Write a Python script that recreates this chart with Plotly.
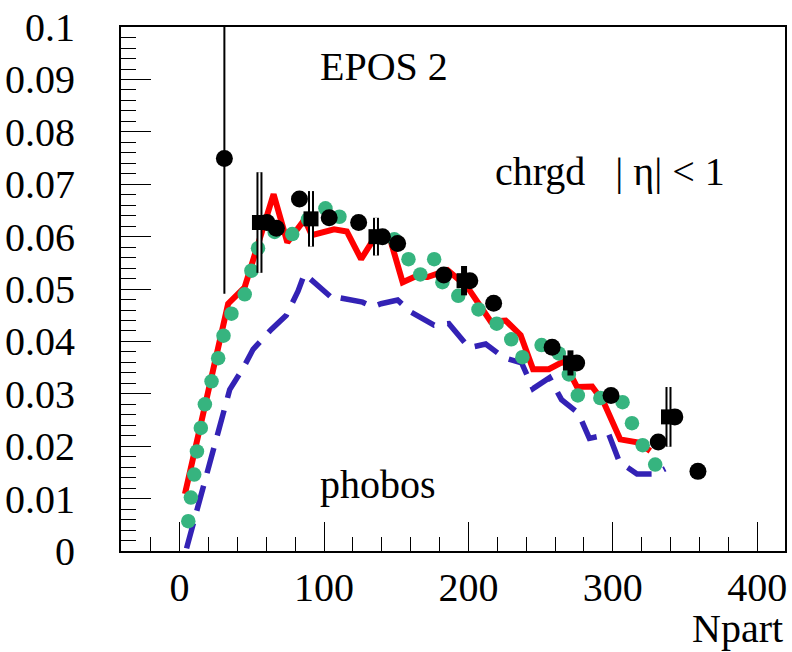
import plotly.graph_objects as go

# ---------------- data ----------------
# EPOS 2 full (red solid line)
red_x = [3.7, 33.6, 45.0, 65.1, 74.6, 86.6, 91.5, 107.0, 115.8, 125.7, 135.5, 145.5,
         154.5, 162.5, 171.7, 185.6, 199.0, 215.5, 225.8, 236.2, 244.8, 255.7, 266.1,
         275.3, 285.7, 293.7, 305.2, 317.9, 326.0]
red_y = [0.0109, 0.0472, 0.0503, 0.0681, 0.0589, 0.0633, 0.0603, 0.0614, 0.0610, 0.0557,
         0.0600, 0.0598, 0.0513, 0.0523, 0.0523, 0.0536, 0.0505, 0.0438, 0.0440, 0.0412,
         0.0347, 0.0347, 0.0362, 0.0313, 0.0314, 0.0284, 0.0213, 0.0207, 0.0191]

# EPOS other variant (blue dashed line)
blue_x = [4.8, 34.7, 44.0, 50.9, 63.5, 73.9, 82.0, 86.5, 107.2, 109.5, 126.7, 133.8,
          139.5, 151.0, 160.2, 176.3, 186.5, 200.5, 212.0, 224.7, 236.9, 244.8, 256.2,
          264.5, 276.2, 283.8, 297.2, 304.6, 316.8, 329.4, 336.3]
blue_y = [0.0005, 0.0308, 0.0349, 0.0385, 0.0423, 0.0450, 0.0496, 0.0529, 0.0479, 0.0484,
          0.0475, 0.0466, 0.0472, 0.0479, 0.0456, 0.0431, 0.0434, 0.0388, 0.0395, 0.0369,
          0.0359, 0.0310, 0.0331, 0.0289, 0.0263, 0.0215, 0.0223, 0.0170, 0.0147, 0.0147,
          0.0157]

# EPOS (green dots)
green_x = [6.0, 7.8, 10.1, 12.0, 14.7, 17.5, 22.1, 26.7, 30.4, 35.9, 45.1, 49.7, 54.3,
           65.8, 78.0, 88.9, 101.0, 110.7, 148.7, 158.5, 166.7, 176.3, 182.0, 193.0,
           207.0, 219.6, 229.7, 237.4, 250.7, 262.6, 269.6, 275.8, 291.4, 306.8, 313.3,
           320.7, 329.4]
green_y = [0.0057, 0.0102, 0.0146, 0.0190, 0.0235, 0.0280, 0.0324, 0.0368, 0.0411, 0.0453,
           0.0490, 0.0535, 0.0578, 0.0609, 0.0605, 0.0633, 0.0654, 0.0638, 0.0595, 0.0557,
           0.0528, 0.0557, 0.0513, 0.0487, 0.0461, 0.0434, 0.0404, 0.0370, 0.0393, 0.0377,
           0.0337, 0.0297, 0.0292, 0.0284, 0.0244, 0.0202, 0.0165]

# PHOBOS data, circles
circ_x = [31.0, 60.5, 67.0, 83.0, 103.6, 124.0, 140.5, 151.0, 183.0, 201.0, 217.5,
          258.0, 275.0, 298.8, 331.5, 343.0, 359.0]
circ_y = [0.0749, 0.0627, 0.0616, 0.0672, 0.0636, 0.0627, 0.0600, 0.0587, 0.0527, 0.0516,
          0.0473, 0.0389, 0.0359, 0.0297, 0.0208, 0.0256, 0.0152]
circ_err = [0.0258, 0, 0, 0, 0, 0, 0, 0, 0, 0, 0, 0, 0, 0, 0, 0, 0]

# PHOBOS data, squares
sq_x = [55.3, 91.0, 136.0, 197.0, 270.7, 338.6]
sq_y = [0.0627, 0.0634, 0.0600, 0.0516, 0.0359, 0.0256]
sq_err = [0.0096, 0.0053, 0.0036, 0.0028, 0.0024, 0.0057]

x_ticks = [0, 100, 200, 300, 400]
y_ticks = [0, 0.01, 0.02, 0.03, 0.04, 0.05, 0.06, 0.07, 0.08, 0.09, 0.1]
y_ticktext = ["0", "0.01", "0.02", "0.03", "0.04", "0.05", "0.06", "0.07", "0.08", "0.09", "0.1"]

FONT = "Liberation Serif, Times New Roman, Times, serif"
RED = "#ff0000"
BLUE = "#3322b5"
GREEN = "#36b47f"

fig = go.Figure()

fig.add_trace(go.Scatter(x=red_x, y=red_y, mode="lines",
                         line=dict(color=RED, width=6), showlegend=False))
fig.add_trace(go.Scatter(x=blue_x, y=blue_y, mode="lines",
                         line=dict(color=BLUE, width=5.5, dash="26px,13px"), showlegend=False))
fig.add_trace(go.Scatter(x=green_x, y=green_y, mode="markers",
                         marker=dict(color=GREEN, size=14.5, line=dict(width=0)), showlegend=False))

# square error bars: thick black bar with a white gap for the larger ones
fig.add_trace(go.Scatter(x=sq_x, y=sq_y, mode="markers", marker=dict(size=1, opacity=0),
                         error_y=dict(type="data", array=sq_err, visible=True, width=0,
                                      thickness=6, color="black"),
                         showlegend=False, hoverinfo="skip"))
gap_x = [x for x, e in zip(sq_x, sq_err) if e > 0.003]
gap_y = [y for y, e in zip(sq_y, sq_err) if e > 0.003]
gap_e = [e for e in sq_err if e > 0.003]
fig.add_trace(go.Scatter(x=gap_x, y=gap_y, mode="markers", marker=dict(size=1, opacity=0),
                         error_y=dict(type="data", array=gap_e, visible=True, width=0,
                                      thickness=2, color="white"),
                         showlegend=False, hoverinfo="skip"))

fig.add_trace(go.Scatter(x=circ_x, y=circ_y, mode="markers",
                         marker=dict(color="black", size=17, symbol="circle", line=dict(width=0)),
                         error_y=dict(type="data", array=circ_err, visible=True, width=0,
                                      thickness=2, color="black"),
                         showlegend=False))
fig.add_trace(go.Scatter(x=sq_x, y=sq_y, mode="markers",
                         marker=dict(color="black", size=15, symbol="square", line=dict(width=0)),
                         showlegend=False))

fig.update_layout(
    width=792, height=652,
    margin=dict(l=119, r=5, t=23, b=101),
    paper_bgcolor="white", plot_bgcolor="white",
    font=dict(family=FONT, size=40, color="black"),
    showlegend=False,
)

fig.update_xaxes(
    range=[-40.6, 419.3], tickvals=x_ticks, ticks="inside", ticklen=29, tickwidth=1,
    tickcolor="black", showgrid=False, zeroline=False, showline=True, linewidth=2,
    linecolor="black", mirror=True, ticklabelstandoff=0,
    tickfont=dict(family=FONT, size=40, color="black"),
    minor=dict(dtick=20, tick0=0, ticks="inside", ticklen=14, tickwidth=1,
               tickcolor="black", showgrid=False),
)
fig.update_yaxes(
    range=[0, 0.10002], tickvals=y_ticks, ticktext=y_ticktext, ticks="inside", ticklen=30,
    tickwidth=1, tickcolor="black", showgrid=False, zeroline=False, showline=True,
    linewidth=2, linecolor="black", mirror=True, ticklabelstandoff=36,
    ticklabeloverflow="allow",
    tickfont=dict(family=FONT, size=40, color="black"),
    minor=dict(dtick=0.002, tick0=0, ticks="inside", ticklen=15, tickwidth=1,
               tickcolor="black", showgrid=False),
)

ann = dict(xref="paper", yref="paper", showarrow=False, xanchor="left", yanchor="middle",
           font=dict(family=FONT, size=40, color="black"))
fig.add_annotation(text="EPOS 2", x=0.2964, y=0.9242, **ann)
fig.add_annotation(text="chrgd\u00a0\u00a0\u00a0| \u03b7| < 1", x=0.560, y=0.7244, **ann)
fig.add_annotation(text="phobos", x=0.2964, y=0.126, **ann)
fig.add_annotation(text="Npart", x=1.0, y=-0.148, xref="paper", yref="paper",
                   showarrow=False, xanchor="right", yanchor="middle",
                   font=dict(family=FONT, size=40, color="black"))

fig.write_html("out.html")
